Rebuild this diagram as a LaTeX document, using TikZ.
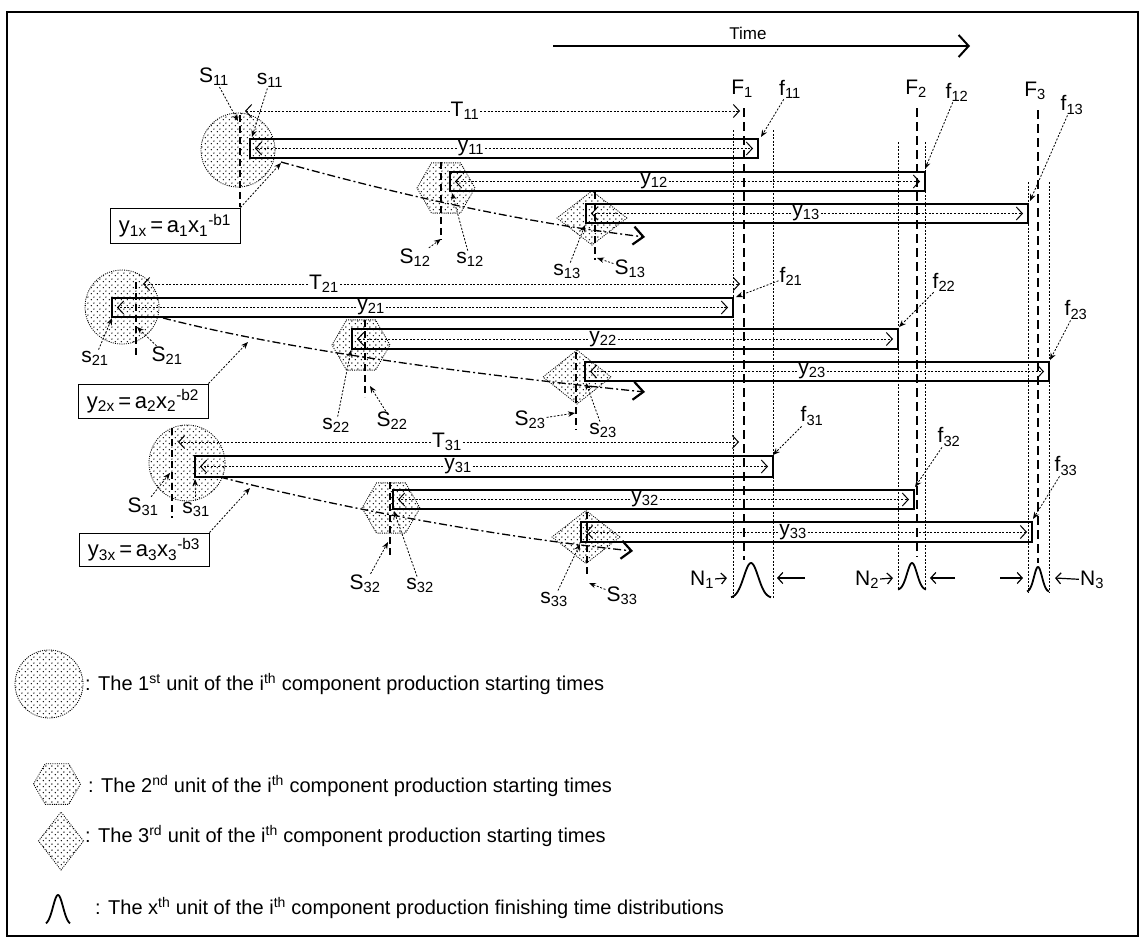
\documentclass[tikz,border=0pt]{standalone}
\usepackage{fontspec}
\setmainfont{Liberation Sans}
\usetikzlibrary{arrows.meta,patterns,shapes.geometric}
\pgfdeclarepatternformonly{sdots}{\pgfqpoint{0pt}{0pt}}{\pgfqpoint{6pt}{6pt}}{\pgfqpoint{6pt}{6pt}}{%
  \pgfpathcircle{\pgfqpoint{1.5pt}{1.5pt}}{0.85pt}%
  \pgfpathcircle{\pgfqpoint{4.5pt}{4.5pt}}{0.85pt}%
  \pgfusepath{fill}}
\tikzset{
  lbl/.style={font=\fontsize{21}{24}\selectfont, inner sep=1pt},
  barbox/.style={draw, line width=2.6pt, inner sep=0pt, outer sep=0pt},
  yarr/.style={line width=0.9pt, dash pattern=on 2pt off 1.6pt, -{Straight Barb[length=6pt,width=13pt,line width=1pt]}},
  ptr/.style={line width=0.8pt, dash pattern=on 2pt off 1.6pt, -{Stealth[length=7pt,width=5.5pt]}},
  Fline/.style={line width=2.4pt, dash pattern=on 9pt off 5pt},
  Sline/.style={line width=2pt, dash pattern=on 7pt off 4pt},
  Nline/.style={line width=0.7pt, dash pattern=on 2pt off 1.5pt},
  ddcurve/.style={line width=1.3pt, dash pattern=on 8pt off 3pt on 2pt off 3pt, -{Straight Barb[length=10pt,width=18pt,line width=2.2pt]}},
  startshape/.style={draw, line width=0.8pt, dash pattern=on 1pt off 1.2pt, pattern=sdots, inner sep=0pt, outer sep=0pt},
  eqbox/.style={draw, line width=1pt, inner sep=0pt, minimum width=130pt, font=\fontsize{22}{26}\selectfont},
  legtxt/.style={font=\fontsize{20}{24}\selectfont, anchor=west, inner sep=0pt},
  bell/.style={line width=1.8pt},
  narr/.style={line width=1.2pt, -{Straight Barb[length=5pt,width=11pt,line width=1.2pt]}},
}
% bar: name, x1, y1, x2, y2, label x, label text
\newcommand{\mkbar}[7]{%
  \node[barbox, minimum width={#4-#2}, minimum height={#5-#3}] (#1) at ({(#2+#4)/2},{(#3+#5)/2}) {};
  \node[lbl] (#1l) at (#6,{(#3+#5)/2}) {#7};
  \draw[yarr] (#1l) -- ([xshift=5pt]#1.west);
  \draw[yarr] (#1l) -- ([xshift=-5pt]#1.east);
}
% span arrow: name, label x, y, text, left x, right x
\newcommand{\mkspan}[6]{%
  \node[lbl] (#1) at (#2,#3) {#4};
  \coordinate (#1a) at (#5,#3);
  \coordinate (#1b) at (#6,#3);
  \draw[yarr] (#1) -- (#1a);
  \draw[yarr] (#1) -- (#1b);
}
% pointer label: name, x, y, text, target x, target y
\newcommand{\mklab}[6]{%
  \node[lbl] (#1) at (#2,#3) {#4};
  \coordinate (#1t) at (#5,#6);
  \draw[ptr] (#1) -- (#1t);
}
\begin{document}
\begin{tikzpicture}[x=1pt,y=-1pt]
\useasboundingbox (0,0) rectangle (1146,943);
\draw[line width=1.8pt] (7,12) rectangle (1138,936);

% time arrow
\node[font=\fontsize{17}{20}\selectfont, inner sep=1pt] (time) at (748,33) {Time};
\coordinate (t0) at (553,46);
\coordinate (t1) at (970,46);
\draw[line width=2pt, -{Straight Barb[length=10pt,width=22pt,line width=2pt]}] (t0) -- (t1);

% finishing-time bounds
\foreach \xx/\ya/\yb in {733/130/598, 773/130/598, 898/142/590, 925/142/590, 1028/182/592, 1049/182/592}
  \draw[Nline] (\xx,\ya) -- (\xx,\yb);
\draw[Fline] (744,108) -- (744,560);
\draw[Fline] (917,108) -- (917,557);
\draw[Fline] (1038,110) -- (1038,563);
\node[lbl] (F1) at (742,89) {F\textsubscript{1}};
\node[lbl] (F2) at (916,89) {F\textsubscript{2}};
\node[lbl] (F3) at (1035,91) {F\textsubscript{3}};

% learning curves
\draw[ddcurve] (281,162) .. controls (400,195) and (520,222) .. (645,237);
\draw[ddcurve] (163,318) .. controls (280,348) and (450,372) .. (645,392);
\draw[ddcurve] (220,477) .. controls (320,503) and (480,535) .. (633,551);

% start shapes
\node[startshape, circle, minimum size=74pt] (c1) at (238,150) {};
\node[startshape, regular polygon, regular polygon sides=6, minimum size=58pt] (h1) at (446,188) {};
\node[startshape, diamond, minimum width=70pt, minimum height=54pt] (d1) at (592,218) {};
\node[startshape, circle, minimum size=74pt] (c2) at (122,307) {};
\node[startshape, regular polygon, regular polygon sides=6, minimum size=58pt] (h2) at (361,345) {};
\node[startshape, diamond, minimum width=68pt, minimum height=54pt] (d2) at (577,377) {};
\node[startshape, circle, minimum size=76pt] (c3) at (187,463) {};
\node[startshape, regular polygon, regular polygon sides=6, minimum size=58pt] (h3) at (391,508) {};
\node[startshape, diamond, minimum width=68pt, minimum height=53pt] (d3) at (586,537) {};

% start-time lines
\draw[Sline] (240,115) -- (240,207);
\draw[Sline] (441,162) -- (441,240);
\draw[Sline] (595,192) -- (595,260);
\draw[Sline] (136,282) -- (136,358);
\draw[Sline] (365,320) -- (365,397);
\draw[Sline] (576,352) -- (576,430);
\draw[Sline] (172,428) -- (172,518);
\draw[Sline] (390,482) -- (390,558);
\draw[Sline] (587,512) -- (587,577);

% bars
\mkbar{b11}{250}{139}{758}{158}{471}{y\textsubscript{11}}
\mkbar{b12}{450}{172}{925}{191}{654}{y\textsubscript{12}}
\mkbar{b13}{586}{204}{1028}{223}{806}{y\textsubscript{13}}
\mkbar{b21}{112}{298}{733}{317}{371}{y\textsubscript{21}}
\mkbar{b22}{352}{329}{898}{349}{603}{y\textsubscript{22}}
\mkbar{b23}{585}{362}{1049}{381}{812}{y\textsubscript{23}}
\mkbar{b31}{195}{456}{773}{477}{458}{y\textsubscript{31}}
\mkbar{b32}{393}{490}{914}{509}{645}{y\textsubscript{32}}
\mkbar{b33}{581}{522}{1032}{542}{793}{y\textsubscript{33}}

% total spans
\mkspan{T11}{465}{111}{T\textsubscript{11}}{245}{740}
\mkspan{T21}{324}{284}{T\textsubscript{21}}{143}{740}
\mkspan{T31}{447}{442}{T\textsubscript{31}}{178}{739}

% equation boxes
\node[eqbox, minimum height=35pt] (e1) at (175,225.5) {y\textsubscript{1x}\,=\,a\textsubscript{1}x\textsubscript{1}\textsuperscript{-b1}};
\node[eqbox, minimum height=34pt] (e2) at (143,401) {y\textsubscript{2x}\,=\,a\textsubscript{2}x\textsubscript{2}\textsuperscript{-b2}};
\node[eqbox, minimum height=33pt] (e3) at (144,549.5) {y\textsubscript{3x}\,=\,a\textsubscript{3}x\textsubscript{3}\textsuperscript{-b3}};
\coordinate (k1) at (281,163);
\coordinate (k2) at (248,342);
\coordinate (k3) at (250,488);
\draw[ptr] (e1.north east) -- (k1);
\draw[ptr] (e2.north east) -- (k2);
\draw[ptr] (e3.north east) -- (k3);

% pointer labels
\mklab{S11}{214}{77}{S\textsubscript{11}}{238}{121}
\mklab{s11}{270}{80}{s\textsubscript{11}}{252}{137}
\mklab{S12}{415}{258}{S\textsubscript{12}}{441}{239}
\mklab{s12}{470}{259}{s\textsubscript{12}}{452}{193}
\mklab{s13}{567}{271}{s\textsubscript{13}}{585}{225}
\mklab{S13}{630}{269}{S\textsubscript{13}}{597}{258}
\mklab{s21}{95}{358}{s\textsubscript{21}}{112}{318}
\mklab{S21}{167}{356}{S\textsubscript{21}}{137}{327}
\mklab{s22}{336}{425}{s\textsubscript{22}}{351}{350}
\mklab{S22}{392}{421}{S\textsubscript{22}}{370}{386}
\mklab{S23}{530}{420}{S\textsubscript{23}}{575}{413}
\mklab{s23}{603}{430}{s\textsubscript{23}}{586}{383}
\mklab{S31}{143}{507}{S\textsubscript{31}}{170}{473}
\mklab{s31}{196}{509}{s\textsubscript{31}}{195}{479}
\mklab{S32}{365}{584}{S\textsubscript{32}}{388}{542}
\mklab{s32}{420}{585}{s\textsubscript{32}}{394}{511}
\mklab{s33}{554}{599}{s\textsubscript{33}}{580}{544}
\mklab{S33}{622}{596}{S\textsubscript{33}}{589}{583}
\mklab{f11}{790}{89}{f\textsubscript{11}}{761}{137}
\mklab{f12}{957}{92}{f\textsubscript{12}}{925}{169}
\mklab{f13}{1072}{105}{f\textsubscript{13}}{1030}{201}
\mklab{f21}{791}{276}{f\textsubscript{21}}{736}{297}
\mklab{f22}{944}{282}{f\textsubscript{22}}{899}{327}
\mklab{f23}{1076}{310}{f\textsubscript{23}}{1050}{360}
\mklab{f31}{812}{416}{f\textsubscript{31}}{773}{455}
\mklab{f32}{949}{437}{f\textsubscript{32}}{915}{487}
\mklab{f33}{1066}{466}{f\textsubscript{33}}{1033}{519}

% finishing-time distributions
\draw[bell] plot[domain=-20:20, samples=61, smooth] ({751+\x},{598-35*exp(-(\x*\x)/104)});
\draw[bell] plot[domain=-14:14, samples=61, smooth] ({912+\x},{590-27*exp(-(\x*\x)/50)});
\draw[bell] plot[domain=-11:11, samples=61, smooth] ({1038+\x},{592-25*exp(-(\x*\x)/32)});

\node[lbl] (N1) at (702,580) {N\textsubscript{1}};
\node[lbl] (N2) at (867,580) {N\textsubscript{2}};
\node[lbl] (N3) at (1092,580) {N\textsubscript{3}};
\coordinate (n1a) at (727,578); \coordinate (n1b) at (805,578); \coordinate (n1c) at (777,578);
\coordinate (n2a) at (893,578); \coordinate (n2b) at (955,578); \coordinate (n2c) at (930,578);
\coordinate (n3a) at (1000,578); \coordinate (n3b) at (1023,578); \coordinate (n3c) at (1055,578);
\draw[narr] (N1) -- (n1a);
\draw[narr] (n1b) -- (n1c);
\draw[narr] (N2) -- (n2a);
\draw[narr] (n2b) -- (n2c);
\draw[narr] (n3a) -- (n3b);
\draw[narr] (N3) -- (n3c);

% legend
\node[startshape, circle, minimum size=68pt] (lc) at (49,684) {};
\node[startshape, regular polygon, regular polygon sides=6, minimum size=47pt] (lh) at (57,784) {};
\node[startshape, diamond, minimum width=45pt, minimum height=58pt] (ld) at (61,841) {};
\draw[bell] plot[domain=-12:12, samples=61, smooth] ({58+\x},{925-30*exp(-(\x*\x)/50)});
\node[legtxt] (lt1) at (85,684) {: The 1\textsuperscript{st} unit of the i\textsuperscript{th} component production starting times};
\node[legtxt] (lt2) at (88,786) {: The 2\textsuperscript{nd} unit of the i\textsuperscript{th} component production starting times};
\node[legtxt] (lt3) at (85,836) {: The 3\textsuperscript{rd} unit of the i\textsuperscript{th} component production starting times};
\node[legtxt] (lt4) at (95,908) {: The x\textsuperscript{th} unit of the i\textsuperscript{th} component production finishing time distributions};
\end{tikzpicture}
\end{document}
